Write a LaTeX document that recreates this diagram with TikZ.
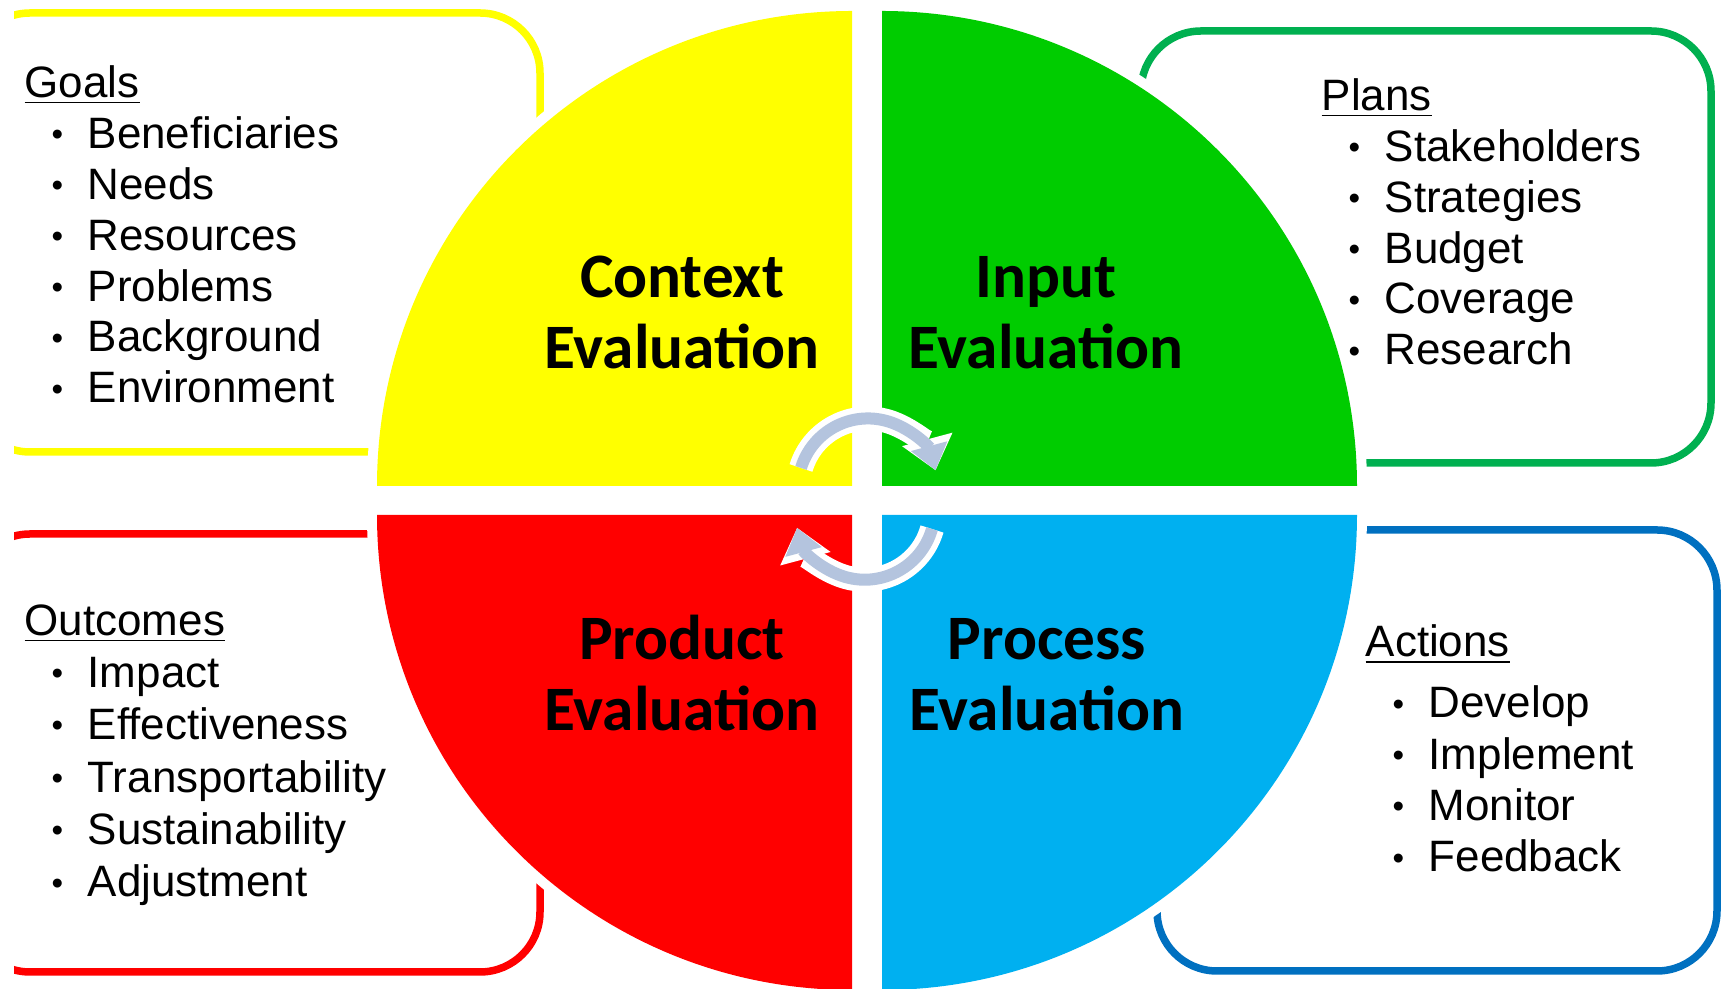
\documentclass[tikz,border=0pt]{standalone}
\usepackage{fontspec}
\setmainfont{Liberation Sans}
\newfontfamily\calfont{Carlito}
\usetikzlibrary{arrows.meta}

\definecolor{ctxyellow}{RGB}{255,255,0}
\definecolor{inpgreen}{RGB}{0,204,0}
\definecolor{prdred}{RGB}{255,0,0}
\definecolor{prcblue}{RGB}{0,176,240}
\definecolor{plangreen}{RGB}{0,176,80}
\definecolor{actblue}{RGB}{0,112,192}
\definecolor{cyclegray}{RGB}{180,196,222}

\newcommand{\bitem}[1]{\hspace*{0.27cm}\makebox[0.36cm][l]{\raisebox{0.8pt}{\scalebox{0.75}{\textbullet}}}#1}

\begin{document}
\begin{tikzpicture}[x=0.01cm,y=-0.01cm,
  listbox/.style={line width=0.075cm,rounded corners=0.6cm},
  quarter/.style={preaction={draw=white,line width=0.2cm}},
  title/.style={inner sep=0pt,align=center,anchor=base,font=\calfont\bfseries\fontsize{18}{20.2}\selectfont},
  items/.style={inner sep=0pt,align=left,anchor=base west,font=\fontsize{12.5}{14.5}\selectfont},
  cyclearrow/.style={line width=0.12cm,cyclegray,-{Triangle[length=0.25cm,width=0.36cm]},
    preaction={draw=white,line width=0.24cm,-{Triangle[length=0.32cm,width=0.5cm]}}}]
\useasboundingbox (0,0) rectangle (1729,989);

% boxes behind the four quarters
\begin{scope}
\clip (14,0) rectangle (1729,989);
\draw[listbox,ctxyellow] (-30,13) rectangle (540,452);
\draw[listbox,plangreen] (1141,31) rectangle (1711,463);
\draw[listbox,prdred] (-30,534) rectangle (540,972);
\draw[listbox,actblue] (1157,530) rectangle (1717,971);
\end{scope}

% quarters
\fill[ctxyellow,quarter] (852,486) -- (377,486) arc[start angle=180,end angle=270,radius=475] -- cycle;
\fill[inpgreen,quarter] (882,486) -- (882,11) arc[start angle=270,end angle=360,radius=475] -- cycle;
\fill[prdred,quarter] (852,515) -- (377,515) arc[start angle=180,end angle=90,radius=475] -- cycle;
\fill[prcblue,quarter] (882,515) -- (1357,515) arc[start angle=0,end angle=90,radius=475] -- cycle;

% cycle arrows
\draw[cyclearrow] (801,468) arc[start angle=-163,end angle=-15,radius=70];
\draw[cyclearrow] (932,529) arc[start angle=16,end angle=165,radius=70];

% titles
\node[title] (ctx) at (682,369) {Context\\Evaluation};
\node[title] (inp) at (1046,369) {Input\\Evaluation};
\node[title] (prd) at (682,731) {Product\\Evaluation};
\node[title] (prc) at (1047,731) {Process\\Evaluation};

% lists
\node[items] (goals) at (24,403) {\underline{Goals}\\\bitem{Beneficiaries}\\\bitem{Needs}\\\bitem{Resources}\\\bitem{Problems}\\\bitem{Background}\\\bitem{Environment}};
\node[items] (plans) at (1321,365) {\underline{Plans}\\\bitem{Stakeholders}\\\bitem{Strategies}\\\bitem{Budget}\\\bitem{Coverage}\\\bitem{Research}};
\node[items,font=\fontsize{12.5}{14.9}\selectfont] (outcomes) at (24,897) {\underline{Outcomes}\\\bitem{Impact}\\\bitem{Effectiveness}\\\bitem{Transportability}\\\bitem{Sustainability}\\\bitem{Adjustment}};
\node[items,font=\fontsize{12.5}{14.6}\selectfont] (actions) at (1365,872) {\underline{Actions}\\[0.1cm]\bitem{Develop}\\\bitem{Implement}\\\bitem{Monitor}\\\bitem{Feedback}};
\end{tikzpicture}
\end{document}
